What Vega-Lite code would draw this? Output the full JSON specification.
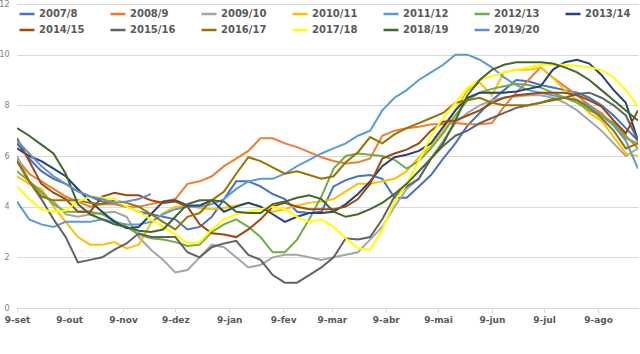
{
"$schema":"https://vega.github.io/schema/vega-lite/v6.json",
"width":621,"height":304,
"autosize":{"type":"none"},
"padding":{"left":17,"top":4,"right":2,"bottom":46},
"background":"white",
"config":{"view":{"stroke":null},"font":"DejaVu Sans"},
"data":{"values":[
{"s":"2007/8","d":"2018-09-09","v":6.5},{"s":"2007/8","d":"2018-09-16","v":5.9},{"s":"2007/8","d":"2018-09-23","v":5.4},{"s":"2007/8","d":"2018-09-30","v":5.1},{"s":"2007/8","d":"2018-10-07","v":4.9},{"s":"2007/8","d":"2018-10-14","v":4.6},{"s":"2007/8","d":"2018-10-21","v":4.4},{"s":"2007/8","d":"2018-10-28","v":4.2},{"s":"2007/8","d":"2018-11-04","v":4.1},{"s":"2007/8","d":"2018-11-11","v":4.0},{"s":"2007/8","d":"2018-11-18","v":3.8},{"s":"2007/8","d":"2018-11-25","v":3.7},{"s":"2007/8","d":"2018-12-02","v":3.6},{"s":"2007/8","d":"2018-12-09","v":3.5},{"s":"2007/8","d":"2018-12-16","v":3.1},{"s":"2007/8","d":"2018-12-23","v":3.2},{"s":"2007/8","d":"2018-12-30","v":3.6},{"s":"2007/8","d":"2019-01-06","v":4.3},{"s":"2007/8","d":"2019-01-13","v":5.0},{"s":"2007/8","d":"2019-01-20","v":5.0},{"s":"2007/8","d":"2019-01-27","v":4.8},{"s":"2007/8","d":"2019-02-03","v":4.5},{"s":"2007/8","d":"2019-02-10","v":4.3},{"s":"2007/8","d":"2019-02-17","v":3.8},{"s":"2007/8","d":"2019-02-24","v":3.75},{"s":"2007/8","d":"2019-03-03","v":3.8},{"s":"2007/8","d":"2019-03-10","v":4.8},{"s":"2007/8","d":"2019-03-17","v":5.05},{"s":"2007/8","d":"2019-03-24","v":5.2},{"s":"2007/8","d":"2019-03-31","v":5.25},{"s":"2007/8","d":"2019-04-07","v":5.1},{"s":"2007/8","d":"2019-04-14","v":4.35},{"s":"2007/8","d":"2019-04-21","v":4.35},{"s":"2007/8","d":"2019-04-28","v":4.8},{"s":"2007/8","d":"2019-05-05","v":5.25},{"s":"2007/8","d":"2019-05-12","v":5.9},{"s":"2007/8","d":"2019-05-19","v":6.5},{"s":"2007/8","d":"2019-05-26","v":7.2},{"s":"2007/8","d":"2019-06-02","v":7.7},{"s":"2007/8","d":"2019-06-09","v":8.2},{"s":"2007/8","d":"2019-06-16","v":8.6},{"s":"2007/8","d":"2019-06-23","v":9.0},{"s":"2007/8","d":"2019-06-30","v":8.95},{"s":"2007/8","d":"2019-07-07","v":8.8},{"s":"2007/8","d":"2019-07-14","v":8.7},{"s":"2007/8","d":"2019-07-21","v":8.6},{"s":"2007/8","d":"2019-07-28","v":8.5},{"s":"2007/8","d":"2019-08-04","v":8.3},{"s":"2007/8","d":"2019-08-11","v":8.0},{"s":"2007/8","d":"2019-08-18","v":7.6},{"s":"2007/8","d":"2019-08-25","v":7.1},{"s":"2007/8","d":"2019-09-01","v":6.6},
{"s":"2008/9","d":"2018-09-09","v":5.9},{"s":"2008/9","d":"2018-09-16","v":5.3},{"s":"2008/9","d":"2018-09-23","v":5.0},{"s":"2008/9","d":"2018-09-30","v":4.7},{"s":"2008/9","d":"2018-10-07","v":4.4},{"s":"2008/9","d":"2018-10-14","v":4.2},{"s":"2008/9","d":"2018-10-21","v":4.0},{"s":"2008/9","d":"2018-10-28","v":4.1},{"s":"2008/9","d":"2018-11-04","v":4.1},{"s":"2008/9","d":"2018-11-11","v":4.0},{"s":"2008/9","d":"2018-11-18","v":4.0},{"s":"2008/9","d":"2018-11-25","v":4.1},{"s":"2008/9","d":"2018-12-02","v":4.2},{"s":"2008/9","d":"2018-12-09","v":4.3},{"s":"2008/9","d":"2018-12-16","v":4.9},{"s":"2008/9","d":"2018-12-23","v":5.0},{"s":"2008/9","d":"2018-12-30","v":5.2},{"s":"2008/9","d":"2019-01-06","v":5.6},{"s":"2008/9","d":"2019-01-13","v":5.9},{"s":"2008/9","d":"2019-01-20","v":6.2},{"s":"2008/9","d":"2019-01-27","v":6.7},{"s":"2008/9","d":"2019-02-03","v":6.7},{"s":"2008/9","d":"2019-02-10","v":6.5},{"s":"2008/9","d":"2019-02-17","v":6.35},{"s":"2008/9","d":"2019-02-24","v":6.15},{"s":"2008/9","d":"2019-03-03","v":5.95},{"s":"2008/9","d":"2019-03-10","v":5.8},{"s":"2008/9","d":"2019-03-17","v":5.7},{"s":"2008/9","d":"2019-03-24","v":5.75},{"s":"2008/9","d":"2019-03-31","v":5.9},{"s":"2008/9","d":"2019-04-07","v":6.8},{"s":"2008/9","d":"2019-04-14","v":7.0},{"s":"2008/9","d":"2019-04-21","v":7.1},{"s":"2008/9","d":"2019-04-28","v":7.15},{"s":"2008/9","d":"2019-05-05","v":7.25},{"s":"2008/9","d":"2019-05-12","v":7.25},{"s":"2008/9","d":"2019-05-19","v":7.3},{"s":"2008/9","d":"2019-05-26","v":7.25},{"s":"2008/9","d":"2019-06-02","v":7.25},{"s":"2008/9","d":"2019-06-09","v":7.3},{"s":"2008/9","d":"2019-06-16","v":7.95},{"s":"2008/9","d":"2019-06-23","v":8.5},{"s":"2008/9","d":"2019-06-30","v":9.0},{"s":"2008/9","d":"2019-07-07","v":9.5},{"s":"2008/9","d":"2019-07-14","v":9.1},{"s":"2008/9","d":"2019-07-21","v":8.75},{"s":"2008/9","d":"2019-07-28","v":8.4},{"s":"2008/9","d":"2019-08-04","v":8.0},{"s":"2008/9","d":"2019-08-11","v":7.7},{"s":"2008/9","d":"2019-08-18","v":7.2},{"s":"2008/9","d":"2019-08-25","v":6.7},{"s":"2008/9","d":"2019-09-01","v":6.5},
{"s":"2009/10","d":"2018-09-09","v":6.0},{"s":"2009/10","d":"2018-09-16","v":5.0},{"s":"2009/10","d":"2018-09-23","v":4.5},{"s":"2009/10","d":"2018-09-30","v":4.2},{"s":"2009/10","d":"2018-10-07","v":3.7},{"s":"2009/10","d":"2018-10-14","v":3.6},{"s":"2009/10","d":"2018-10-21","v":3.7},{"s":"2009/10","d":"2018-10-28","v":3.75},{"s":"2009/10","d":"2018-11-04","v":3.8},{"s":"2009/10","d":"2018-11-11","v":3.6},{"s":"2009/10","d":"2018-11-18","v":2.8},{"s":"2009/10","d":"2018-11-25","v":2.3},{"s":"2009/10","d":"2018-12-02","v":1.9},{"s":"2009/10","d":"2018-12-09","v":1.4},{"s":"2009/10","d":"2018-12-16","v":1.5},{"s":"2009/10","d":"2018-12-23","v":2.0},{"s":"2009/10","d":"2018-12-30","v":2.5},{"s":"2009/10","d":"2019-01-06","v":2.4},{"s":"2009/10","d":"2019-01-13","v":2.0},{"s":"2009/10","d":"2019-01-20","v":1.6},{"s":"2009/10","d":"2019-01-27","v":1.7},{"s":"2009/10","d":"2019-02-03","v":2.0},{"s":"2009/10","d":"2019-02-10","v":2.1},{"s":"2009/10","d":"2019-02-17","v":2.1},{"s":"2009/10","d":"2019-02-24","v":2.0},{"s":"2009/10","d":"2019-03-03","v":1.9},{"s":"2009/10","d":"2019-03-10","v":2.0},{"s":"2009/10","d":"2019-03-17","v":2.1},{"s":"2009/10","d":"2019-03-24","v":2.2},{"s":"2009/10","d":"2019-03-31","v":2.7},{"s":"2009/10","d":"2019-04-07","v":3.2},{"s":"2009/10","d":"2019-04-14","v":4.0},{"s":"2009/10","d":"2019-04-21","v":4.7},{"s":"2009/10","d":"2019-04-28","v":5.1},{"s":"2009/10","d":"2019-05-05","v":5.9},{"s":"2009/10","d":"2019-05-12","v":6.6},{"s":"2009/10","d":"2019-05-19","v":7.3},{"s":"2009/10","d":"2019-05-26","v":7.7},{"s":"2009/10","d":"2019-06-02","v":8.0},{"s":"2009/10","d":"2019-06-09","v":8.2},{"s":"2009/10","d":"2019-06-16","v":8.3},{"s":"2009/10","d":"2019-06-23","v":8.35},{"s":"2009/10","d":"2019-06-30","v":8.4},{"s":"2009/10","d":"2019-07-07","v":8.4},{"s":"2009/10","d":"2019-07-14","v":8.3},{"s":"2009/10","d":"2019-07-21","v":8.1},{"s":"2009/10","d":"2019-07-28","v":7.8},{"s":"2009/10","d":"2019-08-04","v":7.4},{"s":"2009/10","d":"2019-08-11","v":7.0},{"s":"2009/10","d":"2019-08-18","v":6.5},{"s":"2009/10","d":"2019-08-25","v":6.0},{"s":"2009/10","d":"2019-09-01","v":6.3},
{"s":"2010/11","d":"2018-09-09","v":5.2},{"s":"2010/11","d":"2018-09-16","v":4.9},{"s":"2010/11","d":"2018-09-23","v":4.7},{"s":"2010/11","d":"2018-09-30","v":4.0},{"s":"2010/11","d":"2018-10-07","v":3.4},{"s":"2010/11","d":"2018-10-14","v":2.8},{"s":"2010/11","d":"2018-10-21","v":2.5},{"s":"2010/11","d":"2018-10-28","v":2.5},{"s":"2010/11","d":"2018-11-04","v":2.6},{"s":"2010/11","d":"2018-11-11","v":2.35},{"s":"2010/11","d":"2018-11-18","v":2.5},{"s":"2010/11","d":"2018-11-25","v":3.35},{"s":"2010/11","d":"2018-12-02","v":3.75},{"s":"2010/11","d":"2018-12-09","v":4.0},{"s":"2010/11","d":"2018-12-16","v":4.05},{"s":"2010/11","d":"2018-12-23","v":3.95},{"s":"2010/11","d":"2018-12-30","v":3.9},{"s":"2010/11","d":"2019-01-06","v":3.95},{"s":"2010/11","d":"2019-01-13","v":4.05},{"s":"2010/11","d":"2019-01-20","v":4.15},{"s":"2010/11","d":"2019-01-27","v":4.0},{"s":"2010/11","d":"2019-02-03","v":3.8},{"s":"2010/11","d":"2019-02-10","v":3.9},{"s":"2010/11","d":"2019-02-17","v":4.05},{"s":"2010/11","d":"2019-02-24","v":4.15},{"s":"2010/11","d":"2019-03-03","v":4.2},{"s":"2010/11","d":"2019-03-10","v":4.3},{"s":"2010/11","d":"2019-03-17","v":4.6},{"s":"2010/11","d":"2019-03-24","v":4.9},{"s":"2010/11","d":"2019-03-31","v":4.9},{"s":"2010/11","d":"2019-04-07","v":5.0},{"s":"2010/11","d":"2019-04-14","v":5.1},{"s":"2010/11","d":"2019-04-21","v":5.4},{"s":"2010/11","d":"2019-04-28","v":5.95},{"s":"2010/11","d":"2019-05-05","v":6.4},{"s":"2010/11","d":"2019-05-12","v":7.0},{"s":"2010/11","d":"2019-05-19","v":7.8},{"s":"2010/11","d":"2019-05-26","v":8.6},{"s":"2010/11","d":"2019-06-02","v":8.9},{"s":"2010/11","d":"2019-06-09","v":8.4},{"s":"2010/11","d":"2019-06-16","v":9.3},{"s":"2010/11","d":"2019-06-23","v":9.4},{"s":"2010/11","d":"2019-06-30","v":9.4},{"s":"2010/11","d":"2019-07-07","v":9.5},{"s":"2010/11","d":"2019-07-14","v":9.1},{"s":"2010/11","d":"2019-07-21","v":8.6},{"s":"2010/11","d":"2019-07-28","v":8.2},{"s":"2010/11","d":"2019-08-04","v":7.7},{"s":"2010/11","d":"2019-08-11","v":7.4},{"s":"2010/11","d":"2019-08-18","v":6.75},{"s":"2010/11","d":"2019-08-25","v":6.1},{"s":"2010/11","d":"2019-09-01","v":6.0},
{"s":"2011/12","d":"2018-09-09","v":4.2},{"s":"2011/12","d":"2018-09-16","v":3.5},{"s":"2011/12","d":"2018-09-23","v":3.3},{"s":"2011/12","d":"2018-09-30","v":3.2},{"s":"2011/12","d":"2018-10-07","v":3.4},{"s":"2011/12","d":"2018-10-14","v":3.4},{"s":"2011/12","d":"2018-10-21","v":3.4},{"s":"2011/12","d":"2018-10-28","v":3.5},{"s":"2011/12","d":"2018-11-04","v":3.4},{"s":"2011/12","d":"2018-11-11","v":3.3},{"s":"2011/12","d":"2018-11-18","v":3.3},{"s":"2011/12","d":"2018-11-25","v":3.4},{"s":"2011/12","d":"2018-12-02","v":3.7},{"s":"2011/12","d":"2018-12-09","v":3.9},{"s":"2011/12","d":"2018-12-16","v":4.0},{"s":"2011/12","d":"2018-12-23","v":4.0},{"s":"2011/12","d":"2018-12-30","v":4.1},{"s":"2011/12","d":"2019-01-06","v":4.3},{"s":"2011/12","d":"2019-01-13","v":4.7},{"s":"2011/12","d":"2019-01-20","v":5.0},{"s":"2011/12","d":"2019-01-27","v":5.1},{"s":"2011/12","d":"2019-02-03","v":5.1},{"s":"2011/12","d":"2019-02-10","v":5.3},{"s":"2011/12","d":"2019-02-17","v":5.6},{"s":"2011/12","d":"2019-02-24","v":5.85},{"s":"2011/12","d":"2019-03-03","v":6.1},{"s":"2011/12","d":"2019-03-10","v":6.3},{"s":"2011/12","d":"2019-03-17","v":6.5},{"s":"2011/12","d":"2019-03-24","v":6.8},{"s":"2011/12","d":"2019-03-31","v":7.0},{"s":"2011/12","d":"2019-04-07","v":7.8},{"s":"2011/12","d":"2019-04-14","v":8.3},{"s":"2011/12","d":"2019-04-21","v":8.6},{"s":"2011/12","d":"2019-04-28","v":9.0},{"s":"2011/12","d":"2019-05-05","v":9.3},{"s":"2011/12","d":"2019-05-12","v":9.6},{"s":"2011/12","d":"2019-05-19","v":10.0},{"s":"2011/12","d":"2019-05-26","v":10.0},{"s":"2011/12","d":"2019-06-02","v":9.8},{"s":"2011/12","d":"2019-06-09","v":9.5},{"s":"2011/12","d":"2019-06-16","v":9.1},{"s":"2011/12","d":"2019-06-23","v":8.8},{"s":"2011/12","d":"2019-06-30","v":8.6},{"s":"2011/12","d":"2019-07-07","v":8.5},{"s":"2011/12","d":"2019-07-14","v":8.4},{"s":"2011/12","d":"2019-07-21","v":8.3},{"s":"2011/12","d":"2019-07-28","v":8.2},{"s":"2011/12","d":"2019-08-04","v":8.0},{"s":"2011/12","d":"2019-08-11","v":7.6},{"s":"2011/12","d":"2019-08-18","v":7.2},{"s":"2011/12","d":"2019-08-25","v":6.6},{"s":"2011/12","d":"2019-09-01","v":5.5},
{"s":"2012/13","d":"2018-09-09","v":5.4},{"s":"2012/13","d":"2018-09-16","v":5.0},{"s":"2012/13","d":"2018-09-23","v":4.6},{"s":"2012/13","d":"2018-09-30","v":4.1},{"s":"2012/13","d":"2018-10-07","v":3.8},{"s":"2012/13","d":"2018-10-14","v":3.8},{"s":"2012/13","d":"2018-10-21","v":3.8},{"s":"2012/13","d":"2018-10-28","v":3.7},{"s":"2012/13","d":"2018-11-04","v":3.45},{"s":"2012/13","d":"2018-11-11","v":3.2},{"s":"2012/13","d":"2018-11-18","v":2.9},{"s":"2012/13","d":"2018-11-25","v":2.75},{"s":"2012/13","d":"2018-12-02","v":2.7},{"s":"2012/13","d":"2018-12-09","v":2.6},{"s":"2012/13","d":"2018-12-16","v":2.45},{"s":"2012/13","d":"2018-12-23","v":2.5},{"s":"2012/13","d":"2018-12-30","v":3.0},{"s":"2012/13","d":"2019-01-06","v":3.3},{"s":"2012/13","d":"2019-01-13","v":3.5},{"s":"2012/13","d":"2019-01-20","v":3.2},{"s":"2012/13","d":"2019-01-27","v":2.8},{"s":"2012/13","d":"2019-02-03","v":2.2},{"s":"2012/13","d":"2019-02-10","v":2.2},{"s":"2012/13","d":"2019-02-17","v":2.7},{"s":"2012/13","d":"2019-02-24","v":3.5},{"s":"2012/13","d":"2019-03-03","v":4.4},{"s":"2012/13","d":"2019-03-10","v":5.5},{"s":"2012/13","d":"2019-03-17","v":6.0},{"s":"2012/13","d":"2019-03-24","v":6.1},{"s":"2012/13","d":"2019-03-31","v":6.05},{"s":"2012/13","d":"2019-04-07","v":6.0},{"s":"2012/13","d":"2019-04-14","v":5.85},{"s":"2012/13","d":"2019-04-21","v":5.5},{"s":"2012/13","d":"2019-04-28","v":5.8},{"s":"2012/13","d":"2019-05-05","v":6.3},{"s":"2012/13","d":"2019-05-12","v":6.9},{"s":"2012/13","d":"2019-05-19","v":7.6},{"s":"2012/13","d":"2019-05-26","v":8.2},{"s":"2012/13","d":"2019-06-02","v":8.5},{"s":"2012/13","d":"2019-06-09","v":8.65},{"s":"2012/13","d":"2019-06-16","v":8.75},{"s":"2012/13","d":"2019-06-23","v":8.85},{"s":"2012/13","d":"2019-06-30","v":8.8},{"s":"2012/13","d":"2019-07-07","v":8.7},{"s":"2012/13","d":"2019-07-14","v":8.5},{"s":"2012/13","d":"2019-07-21","v":8.3},{"s":"2012/13","d":"2019-07-28","v":8.1},{"s":"2012/13","d":"2019-08-04","v":7.8},{"s":"2012/13","d":"2019-08-11","v":7.6},{"s":"2012/13","d":"2019-08-18","v":7.3},{"s":"2012/13","d":"2019-08-25","v":6.8},{"s":"2012/13","d":"2019-09-01","v":6.3},
{"s":"2013/14","d":"2018-09-09","v":6.3},{"s":"2013/14","d":"2018-09-16","v":6.0},{"s":"2013/14","d":"2018-09-23","v":5.8},{"s":"2013/14","d":"2018-09-30","v":5.5},{"s":"2013/14","d":"2018-10-07","v":5.2},{"s":"2013/14","d":"2018-10-14","v":4.7},{"s":"2013/14","d":"2018-10-21","v":4.2},{"s":"2013/14","d":"2018-10-28","v":3.8},{"s":"2013/14","d":"2018-11-04","v":3.4},{"s":"2013/14","d":"2018-11-11","v":3.15},{"s":"2013/14","d":"2018-11-18","v":3.2},{"s":"2013/14","d":"2018-11-25","v":3.7},{"s":"2013/14","d":"2018-12-02","v":4.2},{"s":"2013/14","d":"2018-12-09","v":4.25},{"s":"2013/14","d":"2018-12-16","v":4.05},{"s":"2013/14","d":"2018-12-23","v":4.05},{"s":"2013/14","d":"2018-12-30","v":4.25},{"s":"2013/14","d":"2019-01-06","v":3.8},{"s":"2013/14","d":"2019-01-13","v":4.0},{"s":"2013/14","d":"2019-01-20","v":4.15},{"s":"2013/14","d":"2019-01-27","v":4.0},{"s":"2013/14","d":"2019-02-03","v":3.7},{"s":"2013/14","d":"2019-02-10","v":3.4},{"s":"2013/14","d":"2019-02-17","v":3.6},{"s":"2013/14","d":"2019-02-24","v":3.75},{"s":"2013/14","d":"2019-03-03","v":3.75},{"s":"2013/14","d":"2019-03-10","v":3.8},{"s":"2013/14","d":"2019-03-17","v":4.1},{"s":"2013/14","d":"2019-03-24","v":4.5},{"s":"2013/14","d":"2019-03-31","v":5.0},{"s":"2013/14","d":"2019-04-07","v":5.6},{"s":"2013/14","d":"2019-04-14","v":5.95},{"s":"2013/14","d":"2019-04-21","v":6.05},{"s":"2013/14","d":"2019-04-28","v":6.2},{"s":"2013/14","d":"2019-05-05","v":6.5},{"s":"2013/14","d":"2019-05-12","v":7.15},{"s":"2013/14","d":"2019-05-19","v":7.8},{"s":"2013/14","d":"2019-05-26","v":8.3},{"s":"2013/14","d":"2019-06-02","v":8.5},{"s":"2013/14","d":"2019-06-09","v":8.5},{"s":"2013/14","d":"2019-06-16","v":8.5},{"s":"2013/14","d":"2019-06-23","v":8.55},{"s":"2013/14","d":"2019-06-30","v":8.65},{"s":"2013/14","d":"2019-07-07","v":8.75},{"s":"2013/14","d":"2019-07-14","v":9.4},{"s":"2013/14","d":"2019-07-21","v":9.7},{"s":"2013/14","d":"2019-07-28","v":9.8},{"s":"2013/14","d":"2019-08-04","v":9.65},{"s":"2013/14","d":"2019-08-11","v":9.2},{"s":"2013/14","d":"2019-08-18","v":8.6},{"s":"2013/14","d":"2019-08-25","v":8.1},{"s":"2013/14","d":"2019-09-01","v":6.6},
{"s":"2014/15","d":"2018-09-09","v":6.7},{"s":"2014/15","d":"2018-09-16","v":5.8},{"s":"2014/15","d":"2018-09-23","v":4.9},{"s":"2014/15","d":"2018-09-30","v":4.55},{"s":"2014/15","d":"2018-10-07","v":4.3},{"s":"2014/15","d":"2018-10-14","v":3.8},{"s":"2014/15","d":"2018-10-21","v":3.8},{"s":"2014/15","d":"2018-10-28","v":4.4},{"s":"2014/15","d":"2018-11-04","v":4.55},{"s":"2014/15","d":"2018-11-11","v":4.45},{"s":"2014/15","d":"2018-11-18","v":4.45},{"s":"2014/15","d":"2018-11-25","v":4.25},{"s":"2014/15","d":"2018-12-02","v":4.15},{"s":"2014/15","d":"2018-12-09","v":4.2},{"s":"2014/15","d":"2018-12-16","v":4.0},{"s":"2014/15","d":"2018-12-23","v":3.3},{"s":"2014/15","d":"2018-12-30","v":2.95},{"s":"2014/15","d":"2019-01-06","v":2.9},{"s":"2014/15","d":"2019-01-13","v":2.8},{"s":"2014/15","d":"2019-01-20","v":3.1},{"s":"2014/15","d":"2019-01-27","v":3.5},{"s":"2014/15","d":"2019-02-03","v":4.0},{"s":"2014/15","d":"2019-02-10","v":4.15},{"s":"2014/15","d":"2019-02-17","v":4.0},{"s":"2014/15","d":"2019-02-24","v":3.9},{"s":"2014/15","d":"2019-03-03","v":3.9},{"s":"2014/15","d":"2019-03-10","v":3.9},{"s":"2014/15","d":"2019-03-17","v":4.0},{"s":"2014/15","d":"2019-03-24","v":4.3},{"s":"2014/15","d":"2019-03-31","v":4.9},{"s":"2014/15","d":"2019-04-07","v":5.9},{"s":"2014/15","d":"2019-04-14","v":6.1},{"s":"2014/15","d":"2019-04-21","v":6.25},{"s":"2014/15","d":"2019-04-28","v":6.5},{"s":"2014/15","d":"2019-05-05","v":7.0},{"s":"2014/15","d":"2019-05-12","v":7.35},{"s":"2014/15","d":"2019-05-19","v":7.4},{"s":"2014/15","d":"2019-05-26","v":7.6},{"s":"2014/15","d":"2019-06-02","v":7.8},{"s":"2014/15","d":"2019-06-09","v":8.1},{"s":"2014/15","d":"2019-06-16","v":8.3},{"s":"2014/15","d":"2019-06-23","v":8.4},{"s":"2014/15","d":"2019-06-30","v":8.45},{"s":"2014/15","d":"2019-07-07","v":8.5},{"s":"2014/15","d":"2019-07-14","v":8.5},{"s":"2014/15","d":"2019-07-21","v":8.5},{"s":"2014/15","d":"2019-07-28","v":8.4},{"s":"2014/15","d":"2019-08-04","v":8.2},{"s":"2014/15","d":"2019-08-11","v":7.95},{"s":"2014/15","d":"2019-08-18","v":7.4},{"s":"2014/15","d":"2019-08-25","v":6.9},{"s":"2014/15","d":"2019-09-01","v":7.8},
{"s":"2015/16","d":"2018-09-09","v":5.8},{"s":"2015/16","d":"2018-09-16","v":5.0},{"s":"2015/16","d":"2018-09-23","v":4.3},{"s":"2015/16","d":"2018-09-30","v":3.5},{"s":"2015/16","d":"2018-10-07","v":2.8},{"s":"2015/16","d":"2018-10-14","v":1.8},{"s":"2015/16","d":"2018-10-21","v":1.9},{"s":"2015/16","d":"2018-10-28","v":2.0},{"s":"2015/16","d":"2018-11-04","v":2.3},{"s":"2015/16","d":"2018-11-11","v":2.55},{"s":"2015/16","d":"2018-11-18","v":2.95},{"s":"2015/16","d":"2018-11-25","v":2.8},{"s":"2015/16","d":"2018-12-02","v":2.8},{"s":"2015/16","d":"2018-12-09","v":2.8},{"s":"2015/16","d":"2018-12-16","v":2.2},{"s":"2015/16","d":"2018-12-23","v":2.0},{"s":"2015/16","d":"2018-12-30","v":2.4},{"s":"2015/16","d":"2019-01-06","v":2.55},{"s":"2015/16","d":"2019-01-13","v":2.65},{"s":"2015/16","d":"2019-01-20","v":2.1},{"s":"2015/16","d":"2019-01-27","v":1.9},{"s":"2015/16","d":"2019-02-03","v":1.3},{"s":"2015/16","d":"2019-02-10","v":1.0},{"s":"2015/16","d":"2019-02-17","v":1.0},{"s":"2015/16","d":"2019-02-24","v":1.3},{"s":"2015/16","d":"2019-03-03","v":1.6},{"s":"2015/16","d":"2019-03-10","v":2.0},{"s":"2015/16","d":"2019-03-17","v":2.75},{"s":"2015/16","d":"2019-03-24","v":2.7},{"s":"2015/16","d":"2019-03-31","v":2.8},{"s":"2015/16","d":"2019-04-07","v":3.5},{"s":"2015/16","d":"2019-04-14","v":4.4},{"s":"2015/16","d":"2019-04-21","v":4.8},{"s":"2015/16","d":"2019-04-28","v":5.1},{"s":"2015/16","d":"2019-05-05","v":5.9},{"s":"2015/16","d":"2019-05-12","v":6.4},{"s":"2015/16","d":"2019-05-19","v":6.8},{"s":"2015/16","d":"2019-05-26","v":7.0},{"s":"2015/16","d":"2019-06-02","v":7.3},{"s":"2015/16","d":"2019-06-09","v":7.5},{"s":"2015/16","d":"2019-06-16","v":7.7},{"s":"2015/16","d":"2019-06-23","v":7.9},{"s":"2015/16","d":"2019-06-30","v":8.0},{"s":"2015/16","d":"2019-07-07","v":8.1},{"s":"2015/16","d":"2019-07-14","v":8.2},{"s":"2015/16","d":"2019-07-21","v":8.3},{"s":"2015/16","d":"2019-07-28","v":8.45},{"s":"2015/16","d":"2019-08-04","v":8.5},{"s":"2015/16","d":"2019-08-11","v":8.3},{"s":"2015/16","d":"2019-08-18","v":8.0},{"s":"2015/16","d":"2019-08-25","v":7.6},{"s":"2015/16","d":"2019-09-01","v":6.6},
{"s":"2016/17","d":"2018-09-09","v":5.8},{"s":"2016/17","d":"2018-09-16","v":5.0},{"s":"2016/17","d":"2018-09-23","v":4.4},{"s":"2016/17","d":"2018-09-30","v":4.25},{"s":"2016/17","d":"2018-10-07","v":4.25},{"s":"2016/17","d":"2018-10-14","v":4.25},{"s":"2016/17","d":"2018-10-21","v":4.15},{"s":"2016/17","d":"2018-10-28","v":4.1},{"s":"2016/17","d":"2018-11-04","v":4.25},{"s":"2016/17","d":"2018-11-11","v":4.15},{"s":"2016/17","d":"2018-11-18","v":4.0},{"s":"2016/17","d":"2018-11-25","v":3.7},{"s":"2016/17","d":"2018-12-02","v":3.4},{"s":"2016/17","d":"2018-12-09","v":3.1},{"s":"2016/17","d":"2018-12-16","v":3.6},{"s":"2016/17","d":"2018-12-23","v":3.75},{"s":"2016/17","d":"2018-12-30","v":4.25},{"s":"2016/17","d":"2019-01-06","v":4.6},{"s":"2016/17","d":"2019-01-13","v":5.3},{"s":"2016/17","d":"2019-01-20","v":5.95},{"s":"2016/17","d":"2019-01-27","v":5.8},{"s":"2016/17","d":"2019-02-03","v":5.55},{"s":"2016/17","d":"2019-02-10","v":5.3},{"s":"2016/17","d":"2019-02-17","v":5.4},{"s":"2016/17","d":"2019-02-24","v":5.25},{"s":"2016/17","d":"2019-03-03","v":5.1},{"s":"2016/17","d":"2019-03-10","v":5.2},{"s":"2016/17","d":"2019-03-17","v":5.75},{"s":"2016/17","d":"2019-03-24","v":6.15},{"s":"2016/17","d":"2019-03-31","v":6.75},{"s":"2016/17","d":"2019-04-07","v":6.5},{"s":"2016/17","d":"2019-04-14","v":6.85},{"s":"2016/17","d":"2019-04-21","v":7.1},{"s":"2016/17","d":"2019-04-28","v":7.3},{"s":"2016/17","d":"2019-05-05","v":7.5},{"s":"2016/17","d":"2019-05-12","v":7.7},{"s":"2016/17","d":"2019-05-19","v":8.1},{"s":"2016/17","d":"2019-05-26","v":8.2},{"s":"2016/17","d":"2019-06-02","v":8.3},{"s":"2016/17","d":"2019-06-09","v":8.1},{"s":"2016/17","d":"2019-06-16","v":8.0},{"s":"2016/17","d":"2019-06-23","v":8.0},{"s":"2016/17","d":"2019-06-30","v":8.0},{"s":"2016/17","d":"2019-07-07","v":8.1},{"s":"2016/17","d":"2019-07-14","v":8.25},{"s":"2016/17","d":"2019-07-21","v":8.3},{"s":"2016/17","d":"2019-07-28","v":8.2},{"s":"2016/17","d":"2019-08-04","v":7.9},{"s":"2016/17","d":"2019-08-11","v":7.5},{"s":"2016/17","d":"2019-08-18","v":7.0},{"s":"2016/17","d":"2019-08-25","v":6.3},{"s":"2016/17","d":"2019-09-01","v":6.5},
{"s":"2017/18","d":"2018-09-09","v":4.8},{"s":"2017/18","d":"2018-09-16","v":4.3},{"s":"2017/18","d":"2018-09-23","v":3.9},{"s":"2017/18","d":"2018-09-30","v":3.8},{"s":"2017/18","d":"2018-10-07","v":3.85},{"s":"2017/18","d":"2018-10-14","v":4.2},{"s":"2017/18","d":"2018-10-21","v":4.4},{"s":"2017/18","d":"2018-10-28","v":4.35},{"s":"2017/18","d":"2018-11-04","v":4.3},{"s":"2017/18","d":"2018-11-11","v":4.0},{"s":"2017/18","d":"2018-11-18","v":3.8},{"s":"2017/18","d":"2018-11-25","v":3.5},{"s":"2017/18","d":"2018-12-02","v":3.2},{"s":"2017/18","d":"2018-12-09","v":2.9},{"s":"2017/18","d":"2018-12-16","v":2.55},{"s":"2017/18","d":"2018-12-23","v":2.6},{"s":"2017/18","d":"2018-12-30","v":3.1},{"s":"2017/18","d":"2019-01-06","v":3.5},{"s":"2017/18","d":"2019-01-13","v":3.7},{"s":"2017/18","d":"2019-01-20","v":3.8},{"s":"2017/18","d":"2019-01-27","v":3.9},{"s":"2017/18","d":"2019-02-03","v":4.0},{"s":"2017/18","d":"2019-02-10","v":3.9},{"s":"2017/18","d":"2019-02-17","v":3.6},{"s":"2017/18","d":"2019-02-24","v":3.4},{"s":"2017/18","d":"2019-03-03","v":3.5},{"s":"2017/18","d":"2019-03-10","v":3.2},{"s":"2017/18","d":"2019-03-17","v":2.75},{"s":"2017/18","d":"2019-03-24","v":2.35},{"s":"2017/18","d":"2019-03-31","v":2.3},{"s":"2017/18","d":"2019-04-07","v":3.1},{"s":"2017/18","d":"2019-04-14","v":4.2},{"s":"2017/18","d":"2019-04-21","v":4.9},{"s":"2017/18","d":"2019-04-28","v":5.8},{"s":"2017/18","d":"2019-05-05","v":6.8},{"s":"2017/18","d":"2019-05-12","v":7.5},{"s":"2017/18","d":"2019-05-19","v":8.1},{"s":"2017/18","d":"2019-05-26","v":8.7},{"s":"2017/18","d":"2019-06-02","v":9.0},{"s":"2017/18","d":"2019-06-09","v":9.15},{"s":"2017/18","d":"2019-06-16","v":9.3},{"s":"2017/18","d":"2019-06-23","v":9.4},{"s":"2017/18","d":"2019-06-30","v":9.5},{"s":"2017/18","d":"2019-07-07","v":9.6},{"s":"2017/18","d":"2019-07-14","v":9.6},{"s":"2017/18","d":"2019-07-21","v":9.6},{"s":"2017/18","d":"2019-07-28","v":9.55},{"s":"2017/18","d":"2019-08-04","v":9.5},{"s":"2017/18","d":"2019-08-11","v":9.4},{"s":"2017/18","d":"2019-08-18","v":9.1},{"s":"2017/18","d":"2019-08-25","v":8.6},{"s":"2017/18","d":"2019-09-01","v":7.95},
{"s":"2018/19","d":"2018-09-09","v":7.1},{"s":"2018/19","d":"2018-09-16","v":6.8},{"s":"2018/19","d":"2018-09-23","v":6.45},{"s":"2018/19","d":"2018-09-30","v":6.1},{"s":"2018/19","d":"2018-10-07","v":5.3},{"s":"2018/19","d":"2018-10-14","v":4.1},{"s":"2018/19","d":"2018-10-21","v":3.7},{"s":"2018/19","d":"2018-10-28","v":3.5},{"s":"2018/19","d":"2018-11-04","v":3.3},{"s":"2018/19","d":"2018-11-11","v":3.2},{"s":"2018/19","d":"2018-11-18","v":3.05},{"s":"2018/19","d":"2018-11-25","v":3.0},{"s":"2018/19","d":"2018-12-02","v":3.1},{"s":"2018/19","d":"2018-12-09","v":3.6},{"s":"2018/19","d":"2018-12-16","v":4.1},{"s":"2018/19","d":"2018-12-23","v":4.25},{"s":"2018/19","d":"2018-12-30","v":4.25},{"s":"2018/19","d":"2019-01-06","v":4.2},{"s":"2018/19","d":"2019-01-13","v":3.8},{"s":"2018/19","d":"2019-01-20","v":3.75},{"s":"2018/19","d":"2019-01-27","v":3.75},{"s":"2018/19","d":"2019-02-03","v":4.1},{"s":"2018/19","d":"2019-02-10","v":4.2},{"s":"2018/19","d":"2019-02-17","v":4.35},{"s":"2018/19","d":"2019-02-24","v":4.45},{"s":"2018/19","d":"2019-03-03","v":4.3},{"s":"2018/19","d":"2019-03-10","v":3.8},{"s":"2018/19","d":"2019-03-17","v":3.6},{"s":"2018/19","d":"2019-03-24","v":3.7},{"s":"2018/19","d":"2019-03-31","v":3.9},{"s":"2018/19","d":"2019-04-07","v":4.15},{"s":"2018/19","d":"2019-04-14","v":4.5},{"s":"2018/19","d":"2019-04-21","v":4.9},{"s":"2018/19","d":"2019-04-28","v":5.4},{"s":"2018/19","d":"2019-05-05","v":5.9},{"s":"2018/19","d":"2019-05-12","v":6.5},{"s":"2018/19","d":"2019-05-19","v":7.4},{"s":"2018/19","d":"2019-05-26","v":8.4},{"s":"2018/19","d":"2019-06-02","v":9.0},{"s":"2018/19","d":"2019-06-09","v":9.4},{"s":"2018/19","d":"2019-06-16","v":9.6},{"s":"2018/19","d":"2019-06-23","v":9.7},{"s":"2018/19","d":"2019-06-30","v":9.7},{"s":"2018/19","d":"2019-07-07","v":9.7},{"s":"2018/19","d":"2019-07-14","v":9.65},{"s":"2018/19","d":"2019-07-21","v":9.5},{"s":"2018/19","d":"2019-07-28","v":9.3},{"s":"2018/19","d":"2019-08-04","v":9.0},{"s":"2018/19","d":"2019-08-11","v":8.6},{"s":"2018/19","d":"2019-08-18","v":8.2},{"s":"2018/19","d":"2019-08-25","v":7.8},{"s":"2018/19","d":"2019-09-01","v":7.4},
{"s":"2019/20","d":"2018-09-09","v":6.6},{"s":"2019/20","d":"2018-09-16","v":6.1},{"s":"2019/20","d":"2018-09-23","v":5.6},{"s":"2019/20","d":"2018-09-30","v":5.2},{"s":"2019/20","d":"2018-10-07","v":4.9},{"s":"2019/20","d":"2018-10-14","v":4.6},{"s":"2019/20","d":"2018-10-21","v":4.4},{"s":"2019/20","d":"2018-10-28","v":4.3},{"s":"2019/20","d":"2018-11-04","v":4.15},{"s":"2019/20","d":"2018-11-11","v":4.2},{"s":"2019/20","d":"2018-11-18","v":4.3},{"s":"2019/20","d":"2018-11-25","v":4.5}
]},
"mark":{"type":"line","strokeWidth":2,"clip":true},
"encoding":{
"x":{"field":"d","type":"temporal",
"scale":{"type":"utc","domain":[{"year":2018,"month":9,"date":9,"utc":true},{"year":2019,"month":9,"date":1,"utc":true}]},
"axis":{"title":null,"grid":false,
"values":[{"year":2018,"month":9,"date":9,"utc":true},{"year":2018,"month":10,"date":9,"utc":true},{"year":2018,"month":11,"date":9,"utc":true},{"year":2018,"month":12,"date":9,"utc":true},{"year":2019,"month":1,"date":9,"utc":true},{"year":2019,"month":2,"date":9,"utc":true},{"year":2019,"month":3,"date":9,"utc":true},{"year":2019,"month":4,"date":9,"utc":true},{"year":2019,"month":5,"date":9,"utc":true},{"year":2019,"month":6,"date":9,"utc":true},{"year":2019,"month":7,"date":9,"utc":true},{"year":2019,"month":8,"date":9,"utc":true}],
"labelExpr":"utcdate(datum.value) + '-' + ['jan','fev','mar','abr','mai','jun','jul','ago','set','out','nov','dez'][utcmonth(datum.value)]",
"domainColor":"#D9D9D9","tickColor":"#D9D9D9","tickSize":4,
"labelFont":"DejaVu Sans","labelFontWeight":"bold","labelFontSize":9,"labelColor":"#595959","labelPadding":3,"labelFlush":false,"labelOverlap":false}},
"y":{"field":"v","type":"quantitative","scale":{"domain":[0,12],"nice":false},
"axis":{"title":null,"values":[0,2,4,6,8,10,12],"domain":false,"ticks":false,"gridColor":"#D9D9D9","labelColor":"#808080","labelFontSize":8,"labelPadding":8,"labelFont":"DejaVu Sans"}},
"color":{"field":"s","type":"nominal",
"scale":{"domain":["2007/8","2008/9","2009/10","2010/11","2011/12","2012/13","2013/14","2014/15","2015/16","2016/17","2017/18","2018/19","2019/20"],
"range":["#4472C4","#ED7D31","#A5A5A5","#FFC000","#5B9BD5","#70AD47","#264478","#9E480E","#636363","#997300","#FFFF00","#43682B","#698ED0"]},
"legend":{"title":null,"orient":"none","legendX":1,"legendY":1,"direction":"horizontal","columns":7,"gridAlign":"all","symbolType":"stroke","symbolSize":225,"symbolStrokeWidth":2.5,"labelFont":"DejaVu Sans","labelFontWeight":"bold","labelFontSize":10,"labelColor":"#595959","labelOffset":3,"columnPadding":20,"rowPadding":2}}
}
}
